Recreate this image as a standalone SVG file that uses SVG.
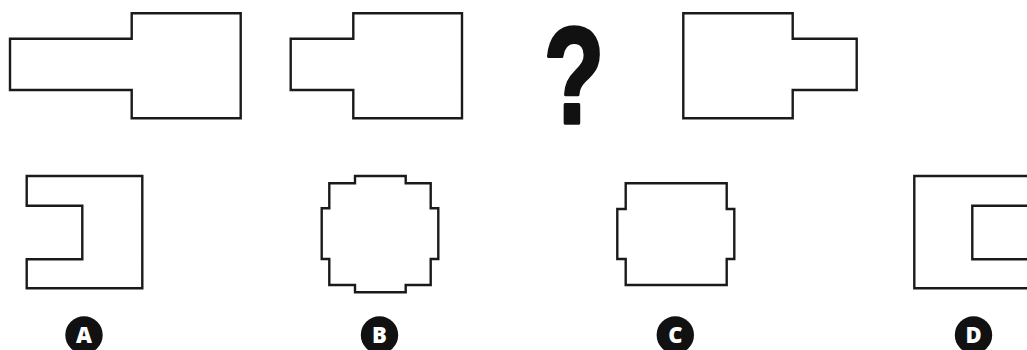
<svg xmlns="http://www.w3.org/2000/svg" width="1027" height="350" viewBox="0 0 1027 350">
<style>
.shape{fill:none;stroke:#1a1a1a;stroke-width:2.4;stroke-linejoin:miter}
.badge{fill:#111}
.badge-t{fill:#fff;font-family:"Open Sans","Liberation Sans",sans-serif;font-weight:800;font-size:22px;text-anchor:middle}
.q{fill:#111;stroke:#111;stroke-width:3.5;stroke-linejoin:round;font-family:"Liberation Sans",Arial,sans-serif;font-weight:700;font-size:134px;text-anchor:middle}
</style>
<rect width="1027" height="350" fill="#fff"/>
<g id="seq1"><path class="shape" d="M10,38.7H131.7V13.3H240.7V118.3H131.7V90H10Z"/></g>
<g id="seq2"><path class="shape" d="M290.7,38.7H353.3V13.3H462V118.3H353.3V90H290.7Z"/></g>
<g id="question"><text class="q" transform="translate(574,123) scale(0.74,1.02)" x="0" y="0">?</text></g>
<g id="seq4"><path class="shape" d="M683.3,13.3H792.7V38.7H856.7V90H792.7V118.3H683.3Z"/></g>
<g id="optA">
<path class="shape" d="M26.7,176H142.3V288.3H26.7V259.3H82.3V205.7H26.7Z"/>
<circle class="badge" cx="84" cy="335" r="18.7"/>
<text class="badge-t" x="84" y="342.5">A</text>
</g>
<g id="optB">
<path class="shape" d="M355,176H405.7V183.3H430.7V208.3H438.3V259H430.7V285H405.7V292.3H355V285H329.3V259H321.7V208.3H329.3V183.3H355Z"/>
<circle class="badge" cx="379.5" cy="335" r="18.7"/>
<text class="badge-t" x="379.5" y="342.5">B</text>
</g>
<g id="optC">
<path class="shape" d="M625.7,183.3H726.7V209H734.3V259H726.7V285H625.7V259H617.3V209H625.7Z"/>
<circle class="badge" cx="675.3" cy="335" r="18.7"/>
<text class="badge-t" x="675.3" y="342.5">C</text>
</g>
<g id="optD">
<path class="shape" d="M1040,176H914.3V288.3H1040"/>
<path class="shape" d="M1040,205.7H972.3V259.3H1040"/>
<circle class="badge" cx="973.5" cy="335" r="18.7"/>
<text class="badge-t" x="973.5" y="342.5">D</text>
</g>
</svg>
